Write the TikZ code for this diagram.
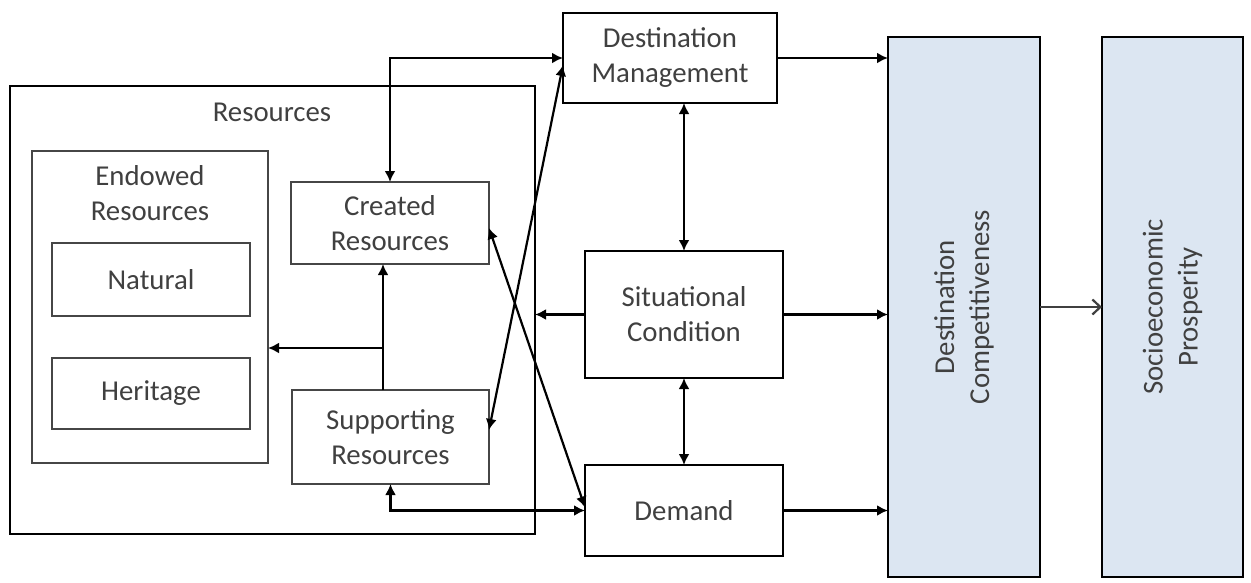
\documentclass[tikz,border=0pt]{standalone}
\usepackage{fontspec}
\setmainfont{Carlito}
\usetikzlibrary{arrows.meta,calc}
\definecolor{txt}{RGB}{64,64,64}
\definecolor{boxfill}{RGB}{220,230,242}
\definecolor{thinline}{RGB}{70,70,70}
\begin{document}
\begin{tikzpicture}[x=1pt,y=-1pt,
  font=\fontsize{28.8}{35}\selectfont,
  every node/.style={text=txt, align=center, inner sep=0pt, outer sep=0pt},
  heavy/.style={draw=black, line width=2.2pt},
  light/.style={draw=thinline, line width=1.4pt},
  conn/.style={draw=black, line width=2.2pt},
  >={Latex[length=11pt,width=11pt]}]
\useasboundingbox (0,0) rectangle (1251,582);

% resources group
\node[heavy, minimum width=525pt, minimum height=448pt] (res) at (272.5,310) {};
\node (restitle) at (272,112) {Resources};
\node[light, minimum width=236pt, minimum height=312pt] (endow) at (150,307) {};
\node (endowtitle) at (150,193) {Endowed\\Resources};
\node[light, minimum width=198pt, minimum height=73pt] (natural) at (151,279.5) {Natural};
\node[light, minimum width=198pt, minimum height=71pt] (heritage) at (151,393.5) {Heritage};
\node[light, minimum width=198pt, minimum height=82pt] (created) at (390,223) {Created\\Resources};
\node[light, minimum width=197pt, minimum height=94pt] (support) at (390.5,437) {Supporting\\Resources};

% middle column
\node[heavy, minimum width=214pt, minimum height=90pt] (dm) at (670,58) {Destination\\Management};
\node[heavy, minimum width=198pt, minimum height=127pt] (sc) at (684,314.5) {Situational\\Condition};
\node[heavy, minimum width=198pt, minimum height=91pt] (demand) at (684,510.5) {Demand};

% outcome columns
\node[heavy, fill=boxfill, minimum width=152pt, minimum height=540pt] (dc) at (964,307) {};
\node[rotate=90] (dctext) at (dc.center) {Destination\\Competitiveness};
\node[heavy, fill=boxfill, minimum width=141pt, minimum height=540pt] (sp) at (1172.5,307) {};
\node[rotate=90] (sptext) at (sp.center) {Socioeconomic\\Prosperity};

% links inside resources
\coordinate (j) at (383,348);
\draw[conn,->] (j |- support.north) -- (j |- created.south);
\draw[conn,->] (j) -- (j -| endow.east);

% links between resources and the middle column
\draw[conn,<->] (created.north) |- (dm.west);
\draw[conn,<->] ([yshift=7pt]support.east) -- ([yshift=-7pt]dm.west);
\draw[conn,<->] ([yshift=-5pt]created.east) -- ([yshift=3pt]demand.west);
\draw[conn,<->] (support.south) |- (demand.west);
\draw[conn,->] (sc.west) -- (sc.west -| res.east);

% middle column links
\draw[conn,<->] (sc.north) -- (sc.north |- dm.south);
\draw[conn,<->] (sc.south) -- (sc.south |- demand.north);

% into competitiveness
\draw[conn,->] (dm.east) -- (dm.east -| dc.west);
\draw[conn,->] (sc.east) -- (sc.east -| dc.west);
\draw[conn,->] (demand.east) -- (demand.east -| dc.west);
\draw[line width=2.2pt, draw=black!75, -{Straight Barb[length=8pt,width=15pt]}] (dc.east) -- (sp.west);
\end{tikzpicture}
\end{document}
